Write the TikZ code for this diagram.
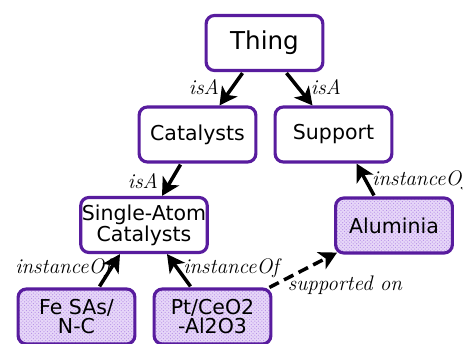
\documentclass[tikz,border=0pt]{standalone}
\usepackage{fontspec}
\newfontfamily\boxfont{DejaVu Sans}
\usetikzlibrary{arrows.meta,patterns,calc}
\definecolor{boxpurple}{RGB}{88,28,158}
\definecolor{dotpurple}{RGB}{180,140,230}
\definecolor{lavender}{RGB}{230,214,248}
\begin{document}
\begin{tikzpicture}[x=0.03cm,y=-0.03cm,>={Stealth[length=15pt,width=16pt,inset=4pt]}]
\useasboundingbox (0,0) rectangle (463,344);
\tikzstyle{cls}=[draw=boxpurple,line width=2.7pt,rounded corners=7pt,minimum width=3.5cm,minimum height=1.65cm,fill=white,align=center,inner sep=1pt,font=\boxfont\fontsize{17.5}{16.5}\selectfont]
\tikzstyle{inst}=[cls,preaction={fill=lavender},pattern=crosshatch dots,pattern color=dotpurple]
\tikzstyle{lbl}=[inner sep=0pt,font=\fontsize{18}{20}\selectfont\itshape]
\tikzstyle{rel}=[->,line width=3pt]
\node[cls,font=\boxfont\fontsize{21}{24}\selectfont](thing) at (264.5,43) {Thing};
\node[cls](cat) at (197.5,134.5) {Catalysts};
\node[cls](sup) at (333.5,134.5) {Support};
\node[cls](sac) at (144,225) {Single-Atom\\Catalysts};
\node[inst](alu) at (394,225.5) {Aluminia};
\node[inst](fe) at (76.5,316.5) {Fe SAs/\\N-C};
\node[inst](pt) at (212.5,316.5) {Pt/CeO2\\-Al2O3};
\draw[rel] ($(thing.south)+(-22,1)$) -- ($(cat.north)+(22,0)$);
\draw[rel] ($(thing.south)+(22,1)$) -- ($(sup.north)+(-21,0)$);
\draw[rel] ($(cat.south)+(-17,1)$) -- ($(sac.north)+(18,0)$);
\draw[rel] ($(alu.north)+(-20,-1)$) -- ($(sup.south)+(23,0)$);
\draw[rel] ($(fe.north)+(23,-1)$) -- ($(sac.south)+(-24,0)$);
\draw[rel] ($(pt.north)+(-22,-1)$) -- ($(sac.south)+(23,0)$);
\draw[rel,dash pattern=on 9pt off 5pt] ($(pt.north east)+(-3,0)$) -- ($(alu.south west)+(3,-2)$);
\node[lbl](l1) at (204,87) {isA};
\node[lbl](l2) at (326,87) {isA};
\node[lbl](l3) at (143,181) {isA};
\node[lbl,anchor=west](l4) at (372,180) {instanceOf};
\node[lbl](l5) at (63,268) {instanceOf};
\node[lbl](l6) at (231,268) {instanceOf};
\node[lbl](l7) at (345,285) {supported on};
\end{tikzpicture}
\end{document}
